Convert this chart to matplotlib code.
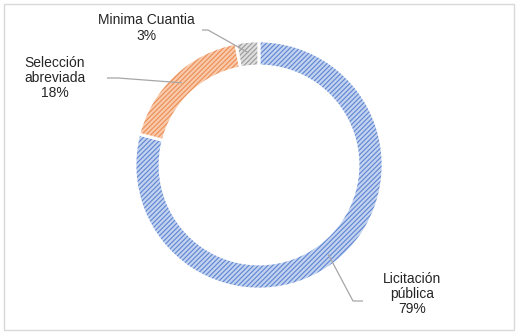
import numpy as np
import matplotlib.pyplot as plt
from matplotlib.patches import Rectangle

plt.rcParams['font.family'] = ['Liberation Sans', 'DejaVu Sans']
plt.rcParams['hatch.linewidth'] = 0.85

# Data
labels = ['Licitación\npública', 'Selección\nabreviada', 'Minima Cuantia']
shares = [79, 18, 3]
fills = ['#c3d3f0', '#f9cbac', '#dedede']
hatch_colors = ['#6288d2', '#ec8f58', '#9c9c9c']

# Layout in pixels (axes spans whole figure, 1 data unit = 1 px)
W, H = 519, 333
cx, cy = 259, H - 165
R = 124
ring = 25

fig = plt.figure(figsize=(W / 100, H / 100), dpi=100)
ax = fig.add_axes([0, 0, 1, 1])

wedges, _ = ax.pie(shares, radius=R, center=(cx, cy), startangle=90,
                   counterclock=False, colors=fills,
                   wedgeprops=dict(width=ring, linewidth=0))
for w, hc in zip(wedges, hatch_colors):
    w.set_hatch('///////')
    w.set_edgecolor(hc)
    w.set_linewidth(0)

# white separators on top
ax.pie(shares, radius=R, center=(cx, cy), startangle=90, counterclock=False,
       wedgeprops=dict(width=ring, fill=False, edgecolor='white', linewidth=2))

ax.set_xlim(0, W)
ax.set_ylim(0, H)
ax.set_aspect('equal')
ax.axis('off')

# labels with leader lines
txt_color = '#262626'
line_color = '#a6a6a6'
# (text x, text y, elbow x, elbow y, knee x)
label_pos = [
    (412, H - 294, 363, H - 301, 353),
    (55, H - 78, 107, H - 78, 118),
    (146, H - 28, 202, H - 30, 208),
]
angles = []
start = 90
for s in shares:
    angles.append(start - s * 3.6 / 2)
    start -= s * 3.6

for lab, s, ang, (tx, ty, ex, ey, kx) in zip(labels, shares, angles, label_pos):
    ax.text(tx, ty, f'{lab}\n{s}%', ha='center', va='center', fontsize=10,
            color=txt_color, linespacing=1.1)
    r_in = R - ring * 0.45
    px = cx + r_in * np.cos(np.radians(ang))
    py = cy + r_in * np.sin(np.radians(ang))
    ax.plot([ex, kx, px], [ey, ey, py],
            color=line_color, linewidth=0.9, solid_capstyle='butt')

fig.patches.append(Rectangle((4 / W, 3 / H), (W - 9) / W, (H - 7) / H,
                             transform=fig.transFigure, fill=False,
                             edgecolor='#d9d9d9', linewidth=1))

fig.savefig('out.png', dpi=100)
